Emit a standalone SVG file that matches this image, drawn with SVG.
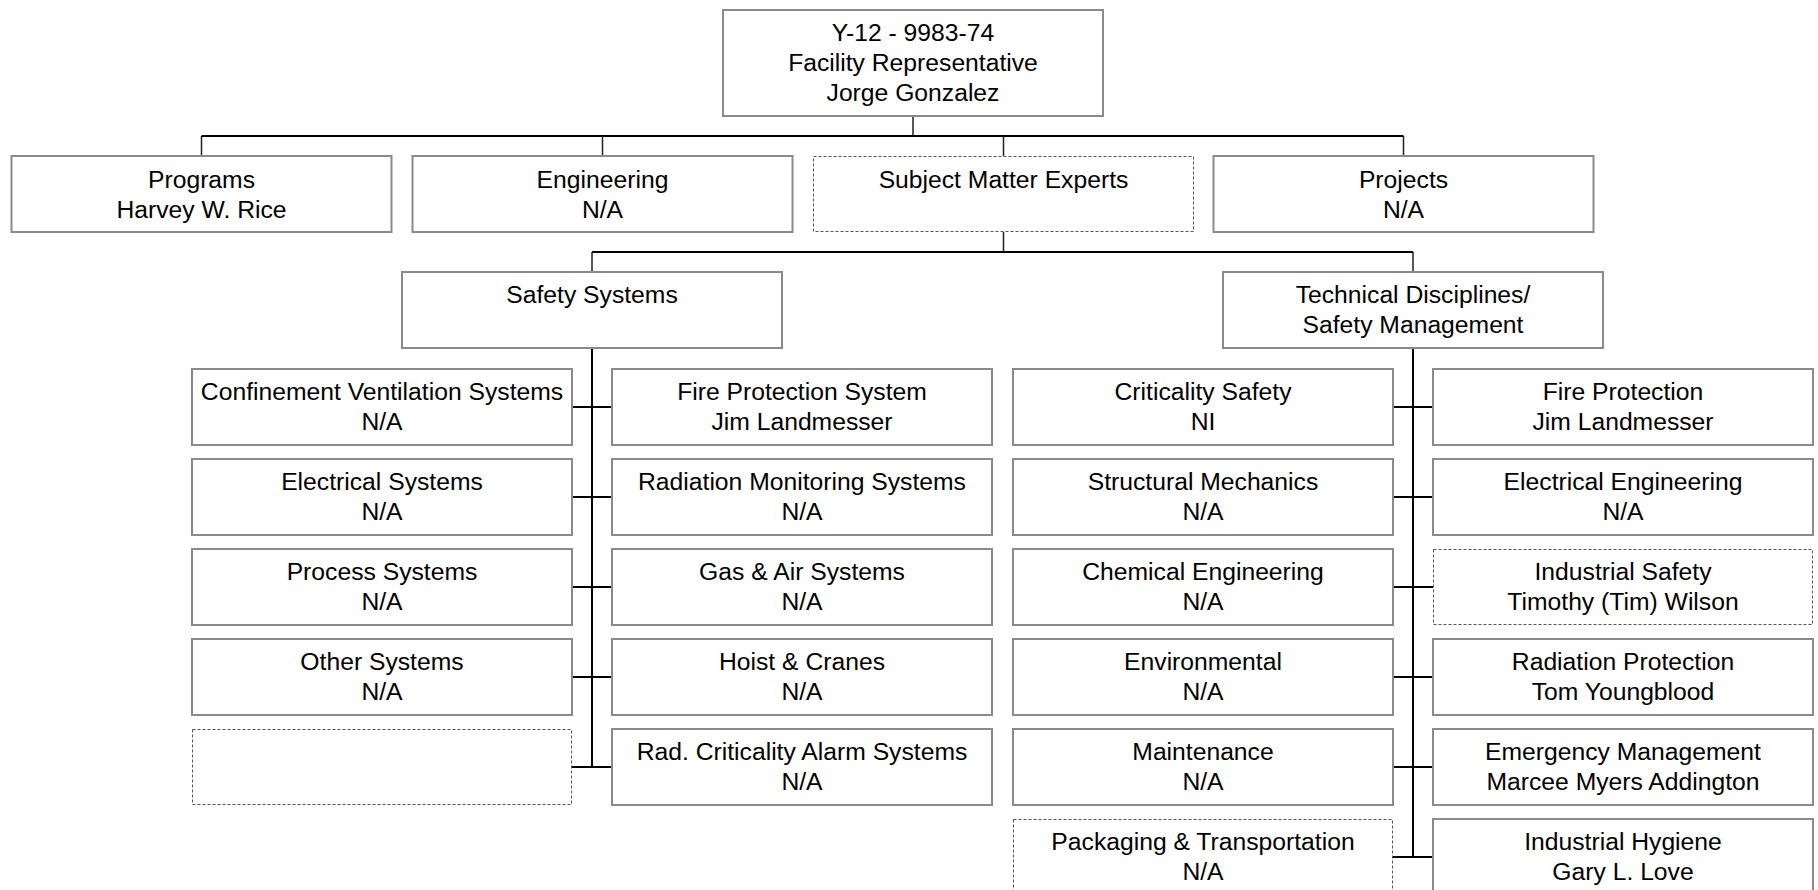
<svg xmlns="http://www.w3.org/2000/svg" width="1818" height="890" viewBox="0 0 1818 890">
<style>
.b{fill:#fff;stroke:#8a8a8a;stroke-width:2}
.d{fill:#fff;stroke:#555;stroke-width:1;stroke-dasharray:3 2}
.t{font-family:"Liberation Sans",Arial,sans-serif;font-size:24.7px;fill:#000;text-anchor:middle}
.c{stroke:#000;stroke-width:2;fill:none}
.c1{stroke:#222;stroke-width:1.5;fill:none}
</style>
<rect width="1818" height="890" fill="#fff"/>
<g id="connectors">
<path class="c1" d="M913 116V136M201.5 136V156M602.5 136V156M1003.5 136V156M1403.5 136V156"/>
<path class="c" d="M201.5 136H1403.5"/>
<path class="c1" d="M1003.5 232V252M592 252V272M1413 252V272"/>
<path class="c" d="M592 252H1413"/>
<path class="c" d="M592 348V767M572 407H612M572 497H612M572 587H612M572 677H612M572 767H612"/>
<path class="c" d="M1413 348V857M1393 407H1433M1393 497H1433M1393 587H1433M1393 677H1433M1393 767H1433M1393 857H1433"/>
</g>
<g id="n-top"><rect class="b" x="723" y="10" width="380" height="106"/><text class="t" x="913" y="41">Y-12 - 9983-74</text><text class="t" x="913" y="71">Facility Representative</text><text class="t" x="913" y="101">Jorge Gonzalez</text></g>
<g id="n-programs"><rect class="b" x="11.5" y="156" width="380" height="76"/><text class="t" x="201.5" y="188">Programs</text><text class="t" x="201.5" y="218">Harvey W. Rice</text></g>
<g id="n-engineering"><rect class="b" x="412.5" y="156" width="380" height="76"/><text class="t" x="602.5" y="188">Engineering</text><text class="t" x="602.5" y="218">N/A</text></g>
<g id="n-sme"><rect class="d" x="813.5" y="156.5" width="380" height="75"/><text class="t" x="1003.5" y="188">Subject Matter Experts</text></g>
<g id="n-projects"><rect class="b" x="1213.5" y="156" width="380" height="76"/><text class="t" x="1403.5" y="188">Projects</text><text class="t" x="1403.5" y="218">N/A</text></g>
<g id="n-safety"><rect class="b" x="402" y="272" width="380" height="76"/><text class="t" x="592" y="303">Safety Systems</text></g>
<g id="n-technical"><rect class="b" x="1223" y="272" width="380" height="76"/><text class="t" x="1413" y="303">Technical Disciplines/</text><text class="t" x="1413" y="333">Safety Management</text></g>
<g id="n-cvs"><rect class="b" x="192" y="369" width="380" height="76"/><text class="t" x="382" y="400">Confinement Ventilation Systems</text><text class="t" x="382" y="430">N/A</text></g>
<g id="n-es"><rect class="b" x="192" y="459" width="380" height="76"/><text class="t" x="382" y="490">Electrical Systems</text><text class="t" x="382" y="520">N/A</text></g>
<g id="n-ps"><rect class="b" x="192" y="549" width="380" height="76"/><text class="t" x="382" y="580">Process Systems</text><text class="t" x="382" y="610">N/A</text></g>
<g id="n-os"><rect class="b" x="192" y="639" width="380" height="76"/><text class="t" x="382" y="670">Other Systems</text><text class="t" x="382" y="700">N/A</text></g>
<g id="n-empty"><rect class="d" x="192.5" y="729.5" width="379" height="75"/></g>
<g id="n-fps"><rect class="b" x="612" y="369" width="380" height="76"/><text class="t" x="802" y="400">Fire Protection System</text><text class="t" x="802" y="430">Jim Landmesser</text></g>
<g id="n-rms"><rect class="b" x="612" y="459" width="380" height="76"/><text class="t" x="802" y="490">Radiation Monitoring Systems</text><text class="t" x="802" y="520">N/A</text></g>
<g id="n-gas"><rect class="b" x="612" y="549" width="380" height="76"/><text class="t" x="802" y="580">Gas &amp; Air Systems</text><text class="t" x="802" y="610">N/A</text></g>
<g id="n-hoist"><rect class="b" x="612" y="639" width="380" height="76"/><text class="t" x="802" y="670">Hoist &amp; Cranes</text><text class="t" x="802" y="700">N/A</text></g>
<g id="n-rcas"><rect class="b" x="612" y="729" width="380" height="76"/><text class="t" x="802" y="760">Rad. Criticality Alarm Systems</text><text class="t" x="802" y="790">N/A</text></g>
<g id="n-crit"><rect class="b" x="1013" y="369" width="380" height="76"/><text class="t" x="1203" y="400">Criticality Safety</text><text class="t" x="1203" y="430">NI</text></g>
<g id="n-struct"><rect class="b" x="1013" y="459" width="380" height="76"/><text class="t" x="1203" y="490">Structural Mechanics</text><text class="t" x="1203" y="520">N/A</text></g>
<g id="n-chem"><rect class="b" x="1013" y="549" width="380" height="76"/><text class="t" x="1203" y="580">Chemical Engineering</text><text class="t" x="1203" y="610">N/A</text></g>
<g id="n-env"><rect class="b" x="1013" y="639" width="380" height="76"/><text class="t" x="1203" y="670">Environmental</text><text class="t" x="1203" y="700">N/A</text></g>
<g id="n-maint"><rect class="b" x="1013" y="729" width="380" height="76"/><text class="t" x="1203" y="760">Maintenance</text><text class="t" x="1203" y="790">N/A</text></g>
<g id="n-pack"><rect class="d" x="1013.5" y="819.5" width="379" height="75"/><text class="t" x="1203" y="850">Packaging &amp; Transportation</text><text class="t" x="1203" y="880">N/A</text></g>
<g id="n-fp"><rect class="b" x="1433" y="369" width="380" height="76"/><text class="t" x="1623" y="400">Fire Protection</text><text class="t" x="1623" y="430">Jim Landmesser</text></g>
<g id="n-ee"><rect class="b" x="1433" y="459" width="380" height="76"/><text class="t" x="1623" y="490">Electrical Engineering</text><text class="t" x="1623" y="520">N/A</text></g>
<g id="n-is"><rect class="d" x="1433.5" y="549.5" width="379" height="75"/><text class="t" x="1623" y="580">Industrial Safety</text><text class="t" x="1623" y="610">Timothy (Tim) Wilson</text></g>
<g id="n-rp"><rect class="b" x="1433" y="639" width="380" height="76"/><text class="t" x="1623" y="670">Radiation Protection</text><text class="t" x="1623" y="700">Tom Youngblood</text></g>
<g id="n-em"><rect class="b" x="1433" y="729" width="380" height="76"/><text class="t" x="1623" y="760">Emergency Management</text><text class="t" x="1623" y="790">Marcee Myers Addington</text></g>
<g id="n-ih"><rect class="b" x="1433" y="819" width="380" height="76"/><text class="t" x="1623" y="850">Industrial Hygiene</text><text class="t" x="1623" y="880">Gary L. Love</text></g>
</svg>
